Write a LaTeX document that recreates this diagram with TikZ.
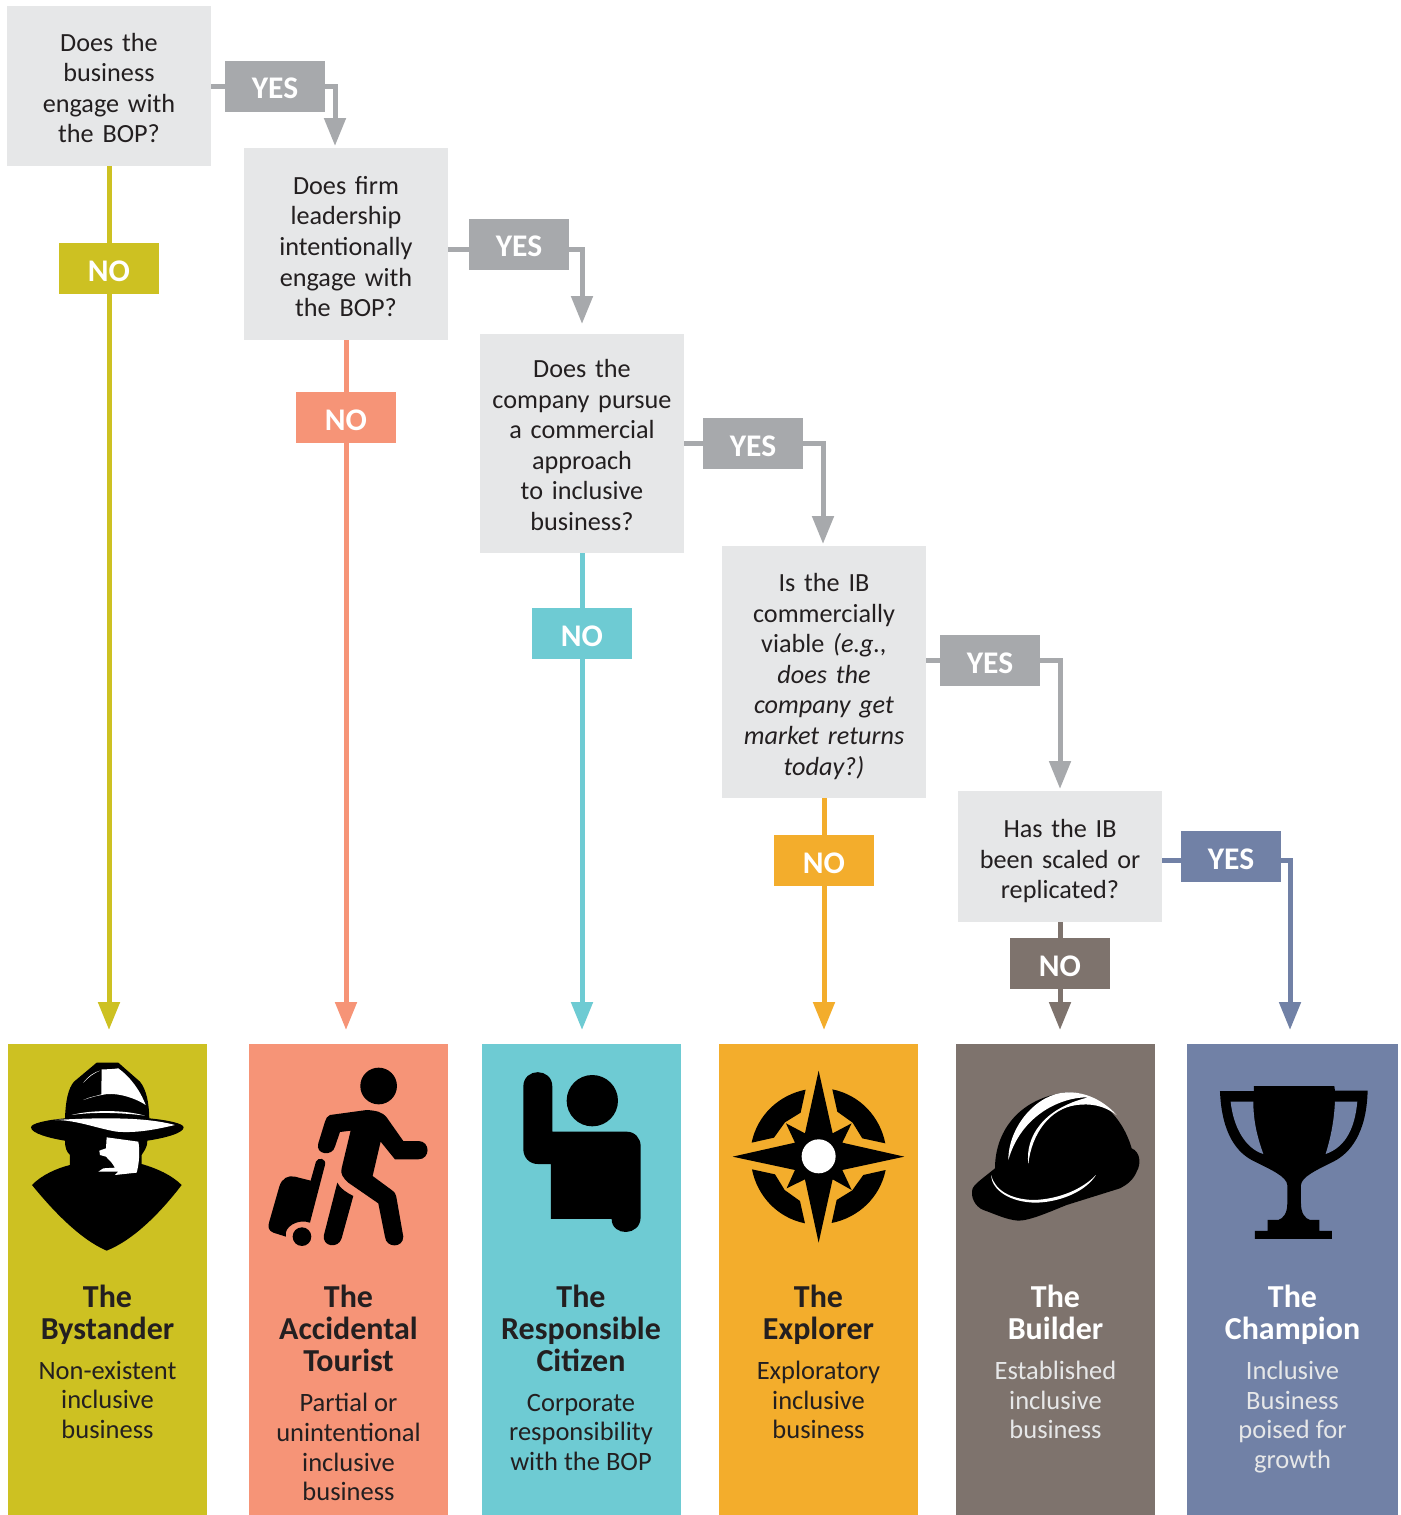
\documentclass[tikz,border=0pt]{standalone}
\usepackage{fontspec}
\setmainfont{Carlito}
\usetikzlibrary{arrows.meta,positioning}
\definecolor{boxgrey}{HTML}{E6E7E8}
\definecolor{yesgrey}{HTML}{A7A9AC}
\definecolor{inkdark}{HTML}{231F20}
\definecolor{olive}{HTML}{CDC122}
\definecolor{salmon}{HTML}{F69477}
\definecolor{teal}{HTML}{6ECBD3}
\definecolor{amber}{HTML}{F3AD2C}
\definecolor{taupe}{HTML}{7E736D}
\definecolor{slate}{HTML}{7181A6}
\tikzset{
	question/.style={fill=boxgrey,text=inkdark,minimum width=204pt,text width=196pt,inner xsep=4pt,inner ysep=0pt,align=center,font=\fontsize{26.2}{30.6}\selectfont,execute at begin node={\rule{0pt}{#1}}},
	tag/.style={fill=#1,text=white,minimum width=100pt,minimum height=51pt,inner sep=0pt,text height=25pt,text depth=0pt,font=\fontsize{31.5}{32}\selectfont\bfseries},
	card/.style={fill=#1,minimum width=199pt,minimum height=471pt,inner sep=0pt},
	cardtitle/.style={text=#1,align=center,inner sep=0pt,text depth=8pt,font=\fontsize{32}{32}\selectfont\bfseries},
	cardtext/.style={text=#1,align=center,inner sep=0pt,font=\fontsize{26.5}{29.6}\selectfont},
	flow/.style={draw=#1,line width=5pt},
	flowtip/.style={draw=#1,line width=5pt,-{Triangle[length=28pt,width=21pt,fill=#1]}},
}
\begin{document}
\begin{tikzpicture}
	[x=1pt,y=-1pt]
	\useasboundingbox (0,0) rectangle (1400,1515);
	\node[question=22pt,minimum height=160pt](q1) at(109,86){Does the\\business\\engage with\\the BOP?};
	\node[question=23pt,minimum height=192pt](q2) at(346,244){Does firm\\leadership\\intentionally\\engage with\\the BOP?};
	\node[question=21pt,minimum height=219pt](q3) at(582,443.5){Does the\\company pursue\\a commercial\\approach\\to inclusive\\business?};
	\node[question=27pt,minimum height=252pt](q4) at(824,672){Is the IB\\commercially\\viable \textit{(e.g.,}\\\textit{does the}\\\textit{company get}\\\textit{market returns}\\\textit{today?)}};
	\node[question=28pt,minimum height=131pt](q5) at(1060,856.5){Has the IB\\been scaled or\\replicated?};

	\node[tag=yesgrey](yes1) at(275,86){YES};
	\node[tag=yesgrey](yes2) at(519,244){YES};
	\node[tag=yesgrey](yes3) at(753,443.5){YES};
	\node[tag=yesgrey](yes4) at(990,660.5){YES};
	\node[tag=slate](yes5) at(1231,856.5){YES};

	\node[tag=olive](no1) at(109,268.5){NO};
	\node[tag=salmon](no2) at(346,417.5){NO};
	\node[tag=teal](no3) at(582,633.5){NO};
	\node[tag=amber](no4) at(824,860.5){NO};
	\node[tag=taupe](no5) at(1060,963.5){NO};

	\node[card=olive](card1) at(107.5,1279.5){};
	\node[card=salmon](card2) at(348.5,1279.5){};
	\node[card=teal](card3) at(581.5,1279.5){};
	\node[card=amber](card4) at(818.5,1279.5){};
	\node[card=taupe](card5) at(1055.5,1279.5){};
	\node[card=slate,minimum width=211pt](card6) at(1292.5,1279.5){};

	\coordinate(tipyes1) at(335,146);
	\coordinate(tipyes2) at(582,324);
	\coordinate(tipyes3) at(823,544);
	\coordinate(tipyes4) at(1060,789);
	\coordinate(tipyes5) at(1290,1030);
	\coordinate(tipno1) at(109,1030);
	\coordinate(tipno2) at(346,1030);
	\coordinate(tipno3) at(582,1030);
	\coordinate(tipno4) at(824,1030);
	\coordinate(tipno5) at(1060,1030);

	\draw[flow=yesgrey](q1)--(yes1);
	\draw[flow=yesgrey]([yshift=-5pt]q2.east)--([yshift=-5pt]yes2.west);
	\draw[flow=yesgrey](q3)--(yes3);
	\draw[flow=yesgrey](q4.east|-yes4)--(yes4);
	\draw[flow=slate]([yshift=-3.5pt]q5.east)--([yshift=-3.5pt]yes5.west);

	\draw[flowtip=yesgrey](yes1.east)-|(tipyes1);
	\draw[flowtip=yesgrey]([yshift=-5pt]yes2.east)-|(tipyes2);
	\draw[flowtip=yesgrey](yes3.east)-|(tipyes3);
	\draw[flowtip=yesgrey](yes4.east)-|(tipyes4);
	\draw[flowtip=slate]([yshift=-3.5pt]yes5.east)-|(tipyes5);

	\draw[flow=olive](q1)--(no1);
	\draw[flow=salmon](q2)--(no2);
	\draw[flow=teal](q3)--(no3);
	\draw[flow=amber](q4)--(no4);
	\draw[flow=taupe](q5)--(no5);

	\draw[flowtip=olive](no1)--(tipno1);
	\draw[flowtip=salmon](no2)--(tipno2);
	\draw[flowtip=teal](no3)--(tipno3);
	\draw[flowtip=amber](no4)--(tipno4);
	\draw[flowtip=taupe](no5)--(tipno5);

	\node[cardtitle=inkdark,anchor=north](title1) at(107.5,1284.5){The\\Bystander};
	\node[cardtext=inkdark,below=13.5pt of title1](text1){Non-existent\\inclusive\\business};
	\node[cardtitle=inkdark,anchor=north](title2) at(348.5,1284.5){The\\Accidental\\Tourist};
	\node[cardtext=inkdark,below=14pt of title2](text2){Partial or\\unintentional\\inclusive\\business};
	\node[cardtitle=inkdark,anchor=north](title3) at(581,1284.5){The\\Responsible\\Citizen};
	\node[cardtext=inkdark,below=14.5pt of title3](text3){Corporate\\responsibility\\with the BOP};
	\node[cardtitle=inkdark,anchor=north](title4) at(818.5,1284.5){The\\Explorer};
	\node[cardtext=inkdark,below=13.5pt of title4](text4){Exploratory\\inclusive\\business};
	\node[cardtitle=white,anchor=north](title5) at(1055.5,1284.5){The\\Builder};
	\node[cardtext=boxgrey,below=13.5pt of title5](text5){Established\\inclusive\\business};
	\node[cardtitle=white,anchor=north](title6) at(1292.5,1284.5){The\\Champion};
	\node[cardtext=boxgrey,below=13.5pt of title6](text6){Inclusive\\Business\\poised for\\growth};

	\begin{scope}[shift={(0,1040)},x=.3333pt,y=-.3333pt]
		\fill[black](195,235)..controls(197,180)and(205,145)..(222,125)--(290,68)--(355,68)--(420,125)..controls(440,150)and(447,190)..(448,235)..controls(500,240)and(551,250)..(551,262)..controls(551,280)and(490,295)..(442,302)..controls(442,325)and(430,335)..(425,345)--(425,372)..controls(470,385)and(515,405)..(545,435)..controls(480,520)and(400,600)..(320,632)..controls(245,600)and(165,520)..(96,435)..controls(125,405)and(170,385)..(210,375)--(210,345)..controls(200,335)and(195,325)..(195,302)..controls(150,295)and(93,280)..(93,262)..controls(93,250)and(140,240)..(195,235)--cycle;
		\fill[white](305,88)..controls(325,88)and(340,87)..(355,85)..controls(390,110)and(420,150)..(437,195)..controls(400,170)and(340,155)..(305,165)..controls(285,168)and(265,175)..(250,180)..controls(270,170)and(290,168)..(304,163)--cycle;
		\fill[white](250,128)..controls(265,108)and(285,95)..(300,92)..controls(280,100)and(265,112)..(250,128)--cycle;
		\fill[white](165,240)..controls(230,240)and(290,265)..(350,275)..controls(410,280)and(470,268)..(525,255)..controls(470,240)and(400,235)..(320,235)..controls(270,235)and(215,237)..(165,240)--cycle;
		\fill[white](215,225)..controls(270,210)and(370,208)..(435,227)..controls(370,218)and(280,215)..(215,225)--cycle;
		\fill[white](320,292)--(415,305)..controls(420,330)and(418,370)..(410,398)--(345,405)--(355,395)--(295,395)--(310,385)--(345,383)--(335,368)--(318,350)--(300,345)--(298,332)--(318,325)--cycle;

		\fill[black](1136,138)circle(55);
		\fill[black,line join=round](990,225)--(1100,210)..controls(1130,212)and(1145,215)..(1160,232)--(1210,303)--(1255,303)..controls(1292,303)and(1292,358)..(1255,358)--(1185,358)--(1142,305)--(1118,408)--(1175,450)..controls(1185,457)and(1187,462)..(1189,470)--(1210,590)..controls(1210,625)and(1158,625)..(1155,590)--(1135,490)--(1045,428)..controls(1030,415)and(1020,400)..(1025,385)--(1052,272)--(1020,276)--(1005,320)..controls(998,350)and(945,345)..(955,310)--(975,245)..controls(978,235)and(982,228)..(990,225)--cycle;
		\fill[black](1012,428)..controls(1020,445)and(1040,458)..(1060,468)--(1025,595)..controls(1015,628)and(965,620)..(972,585)--cycle;
		\fill[black](948,365)..controls(955,350)and(980,355)..(975,375)--(930,548)..controls(895,535)and(850,560)..(858,590)--(820,578)..controls(805,572)and(803,560)..(808,545)--(838,440)..controls(845,415)and(865,405)..(885,410)--(932,422)--cycle;
		\fill[black](906,590)circle(28);
	\end{scope}

	\begin{scope}[shift={(480,1040)},x=.3333pt,y=-.3333pt]
		\fill[black](337,182)circle(77);
		\fill[black](130,140)..controls(130,82)and(217,82)..(217,140)--(217,275)--(440,275)..controls(465,275)and(482,295)..(482,318)--(482,531)..controls(482,590)and(395,590)..(395,537)--(213,537)--(213,372)--(173,372)..controls(148,372)and(130,352)..(130,328)--cycle;

		\fill[black](1016,92)--(1058,280)--(1115,250)--(1087,308)--(1273,350)--(1087,390)--(1115,450)--(1058,418)--(1016,608)--(975,418)--(920,445)--(945,390)--(758,350)--(945,308)--(918,250)--(975,280)--cycle;
		\fill[white](1016,349)circle(51);
		\foreach \a in {0,90,180,270}
		{
			\fill[black,rotate around={\a:(1016,349)}](1057,148)..controls(1140,165)and(1200,230)..(1216,310)--(1147,295)--(1118,248)--(1072,215)--cycle;
		}
	\end{scope}

	\begin{scope}[shift={(950,1040)},x=.3333pt,y=-.3333pt]
		\fill[black](135,385)..controls(135,280)and(200,180)..(340,158)..controls(430,150)and(515,220)..(545,325)..controls(570,335)and(575,370)..(560,395)..controls(550,420)and(530,435)..(510,445)--(350,495)..controls(300,515)and(240,542)..(205,542)..controls(170,540)and(130,520)..(100,510)..controls(75,500)and(60,470)..(68,445)..controls(75,430)and(105,410)..(135,385)--cycle;
		\fill[white](175,360)..controls(175,260)and(260,160)..(350,157)..controls(390,155)and(450,170)..(500,225)..controls(460,195)and(420,190)..(380,195)..controls(300,205)and(245,280)..(235,372)..controls(225,290)and(280,205)..(415,172)..controls(340,170)and(215,220)..(175,360)--cycle;
		\fill[white](123,405)..controls(125,450)and(180,488)..(260,488)..controls(340,485)and(410,450)..(438,405)..controls(400,445)and(330,478)..(250,480)..controls(180,478)and(135,450)..(123,405)--cycle;

		\fill[black](810,153)--(912,153)--(912,138)--(1153,138)--(1155,152)--(1253,152)..controls(1250,280)and(1200,340)..(1150,365)..controls(1100,390)and(1055,410)..(1053,435)--(1053,490)..controls(1053,520)and(1065,535)..(1080,540)--(1108,540)--(1108,573)--(1146,573)--(1146,597)--(915,597)--(915,573)--(953,573)--(953,540)--(985,540)..controls(1000,535)and(1012,520)..(1012,490)--(1012,435)..controls(1010,410)and(965,390)..(915,365)..controls(860,340)and(815,280)..(810,153)--cycle;
		\fill[slate](842,185)--(910,185)..controls(910,250)and(925,300)..(940,342)..controls(885,325)and(850,260)..(842,185)--cycle;
		\fill[slate](1222,185)--(1155,185)..controls(1152,250)and(1140,300)..(1127,342)..controls(1190,320)and(1215,260)..(1222,185)--cycle;
	\end{scope}
\end{tikzpicture}
\end{document}
